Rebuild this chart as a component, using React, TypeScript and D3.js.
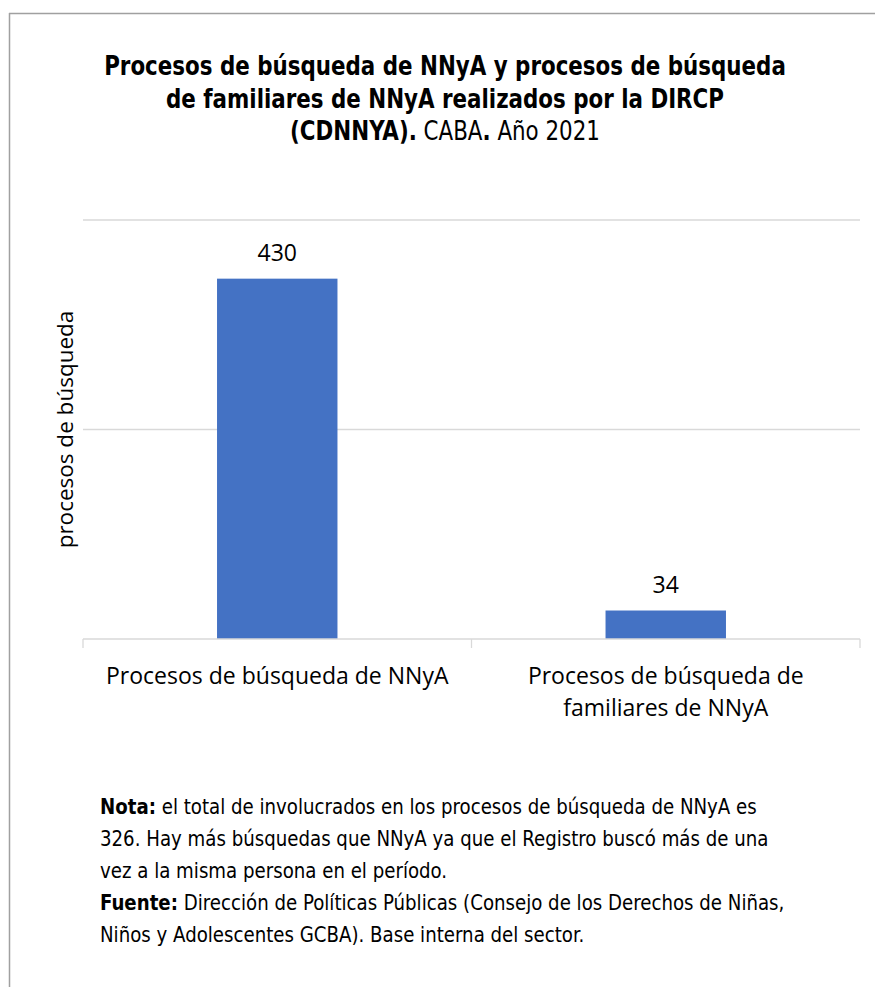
import React from "react";
import * as d3 from "d3";

const categories: string[][] = [
  ["Procesos de búsqueda de NNyA"],
  ["Procesos de búsqueda de", "familiares de NNyA"],
];
const values: number[] = [430, 34];
const yTicks: number[] = [0, 250, 500];
const yLabel = "procesos de búsqueda";
const titleLines = [
  [{ t: "Procesos de búsqueda de NNyA y procesos de búsqueda", b: true }],
  [{ t: "de familiares de NNyA realizados por la DIRCP", b: true }],
  [
    { t: "(CDNNYA).", b: true },
    { t: " CABA", b: false },
    { t: ".", b: true },
    { t: " Año 2021", b: false },
  ],
];
const noteLines = [
  [{ t: "Nota:", b: true }, { t: " el total de involucrados en los procesos de búsqueda de NNyA es", b: false }],
  [{ t: "326. Hay más búsquedas que NNyA ya que el Registro buscó más de una", b: false }],
  [{ t: "vez a la misma persona en el período.", b: false }],
  [{ t: "Fuente:", b: true }, { t: " Dirección de Políticas Públicas (Consejo de los Derechos de Niñas,", b: false }],
  [{ t: "Niños y Adolescentes GCBA). Base interna del sector.", b: false }],
];

const W = 875;
const H = 987;
const narrow = "'Liberation Sans Narrow', 'DejaVu Sans Condensed', 'Roboto Condensed', 'Liberation Sans', sans-serif";
const chartFont = "'Open Sans', 'Noto Sans', sans-serif";

export default function App() {
  const left = 83, right = 860, top = 220, bottom = 639;
  const x = d3
    .scaleBand<number>()
    .domain(values.map((_, i) => i))
    .range([left, right])
    .paddingInner(0.69)
    .paddingOuter(0.345);
  const y = d3.scaleLinear().domain([0, 500]).range([bottom, top]);
  const step = x.step();
  const boundaries = d3.range(values.length + 1).map((i) => left + i * step);

  return (
    <svg width={W} height={H} style={{ position: "absolute", left: 0, top: 0, background: "#fff" }}>
      <rect x={0} y={0} width={W} height={H} fill="#fff" />
      <line x1={9} x2={W} y1={13.5} y2={13.5} stroke="#a0a0a0" strokeWidth={1.5} />
      <line x1={9.5} x2={9.5} y1={13} y2={H} stroke="#a0a0a0" strokeWidth={1.5} />

      {titleLines.map((line, i) => (
        <text key={i} transform={`translate(445,${75 + i * 32.5}) scale(0.915,1)`} x={0} y={0} textAnchor="middle" fontFamily={narrow} fontSize={26} fill="#000">
          {line.map((s, j) => (
            <tspan key={j} fontWeight={s.b ? "bold" : "normal"}>{s.t}</tspan>
          ))}
        </text>
      ))}

      {yTicks.filter((t) => t > 0).map((t) => (
        <line key={t} x1={left} x2={right} y1={y(t)} y2={y(t)} stroke="#d9d9d9" strokeWidth={1.3} />
      ))}

      {values.map((v, i) => (
        <rect key={i} x={x(i)!} y={y(v)} width={x.bandwidth()} height={bottom - y(v)} fill="#4472c4" />
      ))}

      <line x1={left} x2={right} y1={bottom} y2={bottom} stroke="#d9d9d9" strokeWidth={1.3} />
      {boundaries.map((bx, i) => (
        <line key={i} x1={bx} x2={bx} y1={bottom} y2={bottom + 9} stroke="#d9d9d9" strokeWidth={1.3} />
      ))}

      {values.map((v, i) => (
        <text key={i} x={x(i)! + x.bandwidth() / 2} y={y(v) - 18} textAnchor="middle" fontFamily={chartFont} fontSize={23} fill="#000">
          {v}
        </text>
      ))}

      {categories.map((lines, i) =>
        lines.map((l, j) => (
          <text key={`${i}-${j}`} x={x(i)! + x.bandwidth() / 2} y={684 + j * 32} textAnchor="middle" fontFamily={chartFont} fontSize={23} fill="#000">
            {l}
          </text>
        ))
      )}

      <text transform={`translate(73,${(top + bottom) / 2}) rotate(-90)`} textAnchor="middle" fontFamily={chartFont} fontSize={22.5} fill="#000">
        {yLabel}
      </text>

      {noteLines.map((line, i) => (
        <text key={i} transform={`translate(100,${814 + i * 32}) scale(0.94,1)`} x={0} y={0} fontFamily={narrow} fontSize={21.5} fill="#000">
          {line.map((s, j) => (
            <tspan key={j} fontWeight={s.b ? "bold" : "normal"}>{s.t}</tspan>
          ))}
        </text>
      ))}
    </svg>
  );
}
